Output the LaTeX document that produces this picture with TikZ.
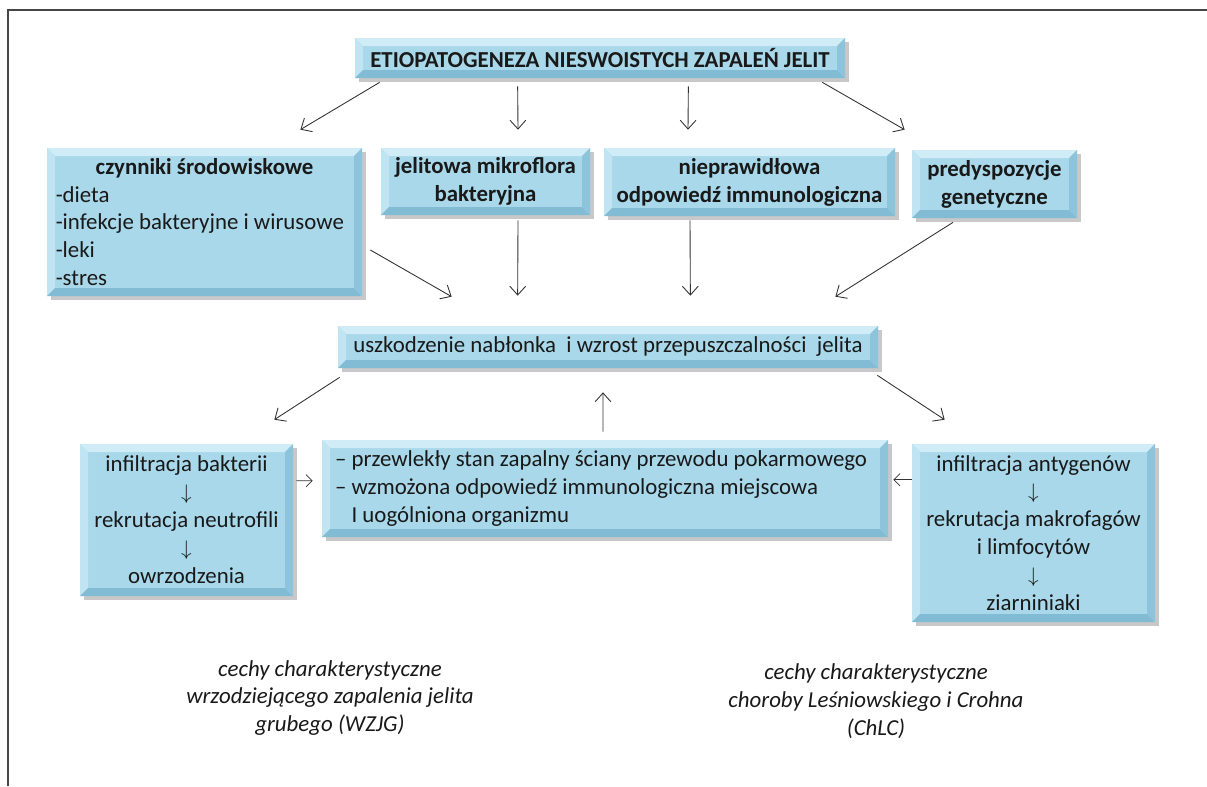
\documentclass[tikz,border=0pt]{standalone}
\usepackage{fontspec}
\setmainfont{Carlito}
\usetikzlibrary{arrows.meta,shadows}

\definecolor{niebieski}{RGB}{168,216,234}
\definecolor{jasny}{RGB}{208,237,247}
\definecolor{ciemny}{RGB}{130,188,212}
\definecolor{rama}{RGB}{70,70,70}

\newcommand{\fazka}{0.16}

\tikzset{
  pudlo/.style={fill=niebieski, inner sep=0pt,
    drop shadow={shadow xshift=0.07cm, shadow yshift=-0.07cm, opacity=0.3, fill=black!70},
    path picture={
      \fill[jasny] (path picture bounding box.north west) -- (path picture bounding box.north east)
        -- ([shift={(-\fazka,-\fazka)}]path picture bounding box.north east)
        -- ([shift={(\fazka,-\fazka)}]path picture bounding box.north west) -- cycle;
      \fill[jasny!60!niebieski] (path picture bounding box.north west) -- (path picture bounding box.south west)
        -- ([shift={(\fazka,\fazka)}]path picture bounding box.south west)
        -- ([shift={(\fazka,-\fazka)}]path picture bounding box.north west) -- cycle;
      \fill[ciemny] (path picture bounding box.south west) -- (path picture bounding box.south east)
        -- ([shift={(-\fazka,\fazka)}]path picture bounding box.south east)
        -- ([shift={(\fazka,\fazka)}]path picture bounding box.south west) -- cycle;
      \fill[ciemny!70!niebieski] (path picture bounding box.north east) -- (path picture bounding box.south east)
        -- ([shift={(-\fazka,\fazka)}]path picture bounding box.south east)
        -- ([shift={(-\fazka,-\fazka)}]path picture bounding box.north east) -- cycle;
    }},
  tekst/.style={font=\fontsize{13}{15.9}\selectfont, text=black!90},
  strzalka/.style={-{Straight Barb[length=5pt,width=9pt]}, black!80, line width=0.5pt},
  mala/.style={-{Straight Barb[length=3.5pt,width=7pt]}, black!80, line width=0.4pt},
}

\begin{document}
\begin{tikzpicture}
        \useasboundingbox[fill=white] (0,0) rectangle (24.14,-15.72);
        \draw[rama, line width=0.9pt] (0.16,-15.72) -- (0.16,-0.2) -- (24.14,-0.2);

        \node[pudlo, tekst, minimum width=9.8cm, minimum height=0.8cm] at (12,-1.16) (tytul) {\textbf{ETIOPATOGENEZA NIESWOISTYCH ZAPALEŃ JELIT}};

        \node[pudlo, tekst, minimum width=6.3cm, minimum height=2.96cm, text width=5.95cm, align=flush left] at (4.09,-4.44) (czynniki) {\makebox[\linewidth]{\textbf{czynniki środowiskowe}}\\-dieta\\-infekcje bakteryjne i wirusowe\\-leki\\-stres};
        \node[pudlo, tekst, minimum width=4.18cm, minimum height=1.34cm, align=center] at (9.71,-3.63) (mikroflora) {\textbf{jelitowa mikroflora}\\\textbf{bakteryjna}};
        \node[pudlo, tekst, minimum width=5.82cm, minimum height=1.36cm, align=center] at (14.99,-3.64) (odpowiedz) {\textbf{nieprawidłowa}\\\textbf{odpowiedź immunologiczna}};
        \node[pudlo, tekst, minimum width=3.3cm, minimum height=1.36cm, align=center] at (19.89,-3.68) (geny) {\textbf{predyspozycje}\\\textbf{genetyczne}};

        \node[pudlo, tekst, minimum width=10.8cm, minimum height=0.84cm] at (12.16,-6.94) (uszkodzenie) {uszkodzenie nabłonka\ \ i wzrost przepuszczalności\ \ jelita};

        \node[pudlo, tekst, minimum width=4.26cm, minimum height=3.04cm, align=center] at (3.73,-10.4) (wzjg) {infiltracja bakterii\\$\downarrow$\\rekrutacja neutrofili\\$\downarrow$\\owrzodzenia};
        \node[pudlo, tekst, minimum width=11.32cm, minimum height=1.94cm, text width=10.8cm, align=flush left] at (12.1,-9.77) (zapalenie) {– przewlekły stan zapalny ściany przewodu pokarmowego\\– wzmożona odpowiedź immunologiczna miejscowa\\\phantom{– }I uogólniona organizmu};
        \node[pudlo, tekst, minimum width=4.86cm, minimum height=3.56cm, align=center] at (20.67,-10.66) (chlc) {infiltracja antygenów\\$\downarrow$\\rekrutacja makrofagów\\i limfocytów\\$\downarrow$\\ziarniniaki};

        \node[tekst, align=center, font=\fontsize{13}{15.9}\selectfont\itshape] at (6.6,-13.96) (opis1) {cechy charakterystyczne\\wrzodziejącego zapalenia jelita\\grubego (WZJG)};
        \node[tekst, align=center, font=\fontsize{13}{15.9}\selectfont\itshape] at (17.52,-14.02) (opis2) {cechy charakterystyczne\\choroby Leśniowskiego i Crohna\\(ChLC)};

        \draw[strzalka] ([shift={(0.5,-0.08)}]tytul.south west) -- ([shift={(-1.24,0.36)}]czynniki.north east);
        \draw[strzalka] ([shift={(3.26,-0.16)}]tytul.south west) -- ([shift={(0.65,0.36)}]mikroflora.north);
        \draw[strzalka] ([shift={(-3.14,-0.16)}]tytul.south east) -- ([shift={(-1.23,0.36)}]odpowiedz.north);
        \draw[strzalka] ([shift={(-0.46,-0.08)}]tytul.south east) -- ([shift={(-0.14,0.4)}]geny.north west);

        \draw[strzalka] ([shift={(0.16,-0.56)}]czynniki.east) -- ([shift={(2.28,0.58)}]uszkodzenie.north west);
        \draw[strzalka] ([shift={(0.65,-0.1)}]mikroflora.south) -- ([shift={(3.6,0.6)}]uszkodzenie.north west);
        \draw[strzalka] ([shift={(-1.19,-0.08)}]odpowiedz.south) -- ([shift={(-3.76,0.6)}]uszkodzenie.north east);
        \draw[strzalka] ([shift={(-0.83,-0.08)}]geny.south) -- ([shift={(-0.86,0.58)}]uszkodzenie.north east);

        \draw[strzalka] ([shift={(0.04,-0.18)}]uszkodzenie.south west) -- ([shift={(-0.38,0.48)}]wzjg.north east);
        \draw[strzalka] ([shift={(-0.04,0.16)}]zapalenie.north) -- ([shift={(-0.1,-0.48)}]uszkodzenie.south);
        \draw[strzalka] ([shift={(-0.02,-0.14)}]uszkodzenie.south east) -- ([shift={(0.66,0.48)}]chlc.north west);

        \draw[mala] ([shift={(0.06,-0.74)}]wzjg.north east) -- ([shift={(-0.18,-0.82)}]zapalenie.north west);
        \draw[mala] ([shift={(0,-0.72)}]chlc.north west) -- ([shift={(0.1,-0.8)}]zapalenie.north east);

\end{tikzpicture}
\end{document}
